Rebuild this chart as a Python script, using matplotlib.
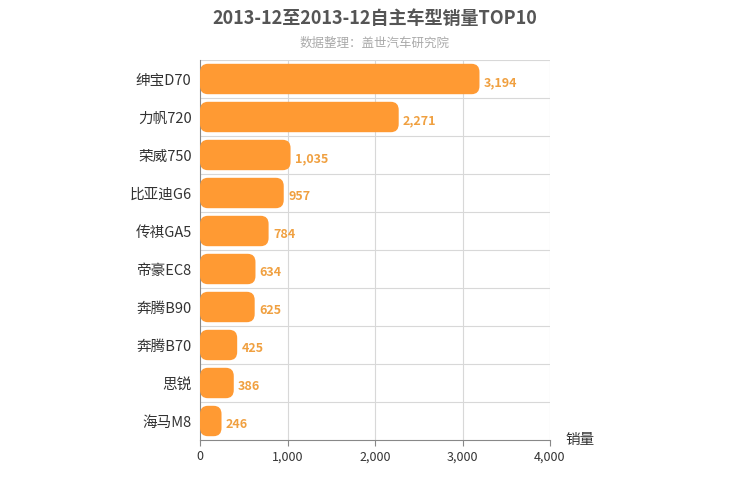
import matplotlib
matplotlib.use("Agg")
import matplotlib.pyplot as plt
from matplotlib.patches import FancyBboxPatch

plt.rcParams['font.family'] = 'Noto Sans CJK SC'

categories = ["绅宝D70", "力帆720", "荣威750", "比亚迪G6", "传祺GA5", "帝豪EC8", "奔腾B90", "奔腾B70", "思锐", "海马M8"]
values = [3194, 2271, 1035, 957, 784, 634, 625, 425, 386, 246]
xticks = [0, 1000, 2000, 3000, 4000]
xticklabels = ["0", "1,000", "2,000", "3,000", "4,000"]

fig = plt.figure(figsize=(7.5, 5), dpi=100)
ax = fig.add_axes([200/750, 60/500, 350/750, 380/500])
n = len(categories)
ax.set_xlim(0, 4000)
ax.set_ylim(n - 0.5, -0.5)
color = "#FF9A33"
for i, v in enumerate(values):
    h = 0.8
    p = FancyBboxPatch((0, i - h/2), v, h,
                       boxstyle="round,pad=0,rounding_size=90",
                       mutation_aspect=0.0024, fc=color, ec="none", zorder=3)
    ax.add_patch(p)
    ax.text(v + 50, i + 0.1, f"{v:,}", color="#F0A040", fontsize=9,
            fontweight="bold", va="center", ha="left", zorder=4)
ax.set_yticks(range(n))
ax.set_yticklabels(categories, fontsize=10.5, color="#333")
ax.set_xticks(xticks)
ax.set_xticklabels(xticklabels, fontsize=9, color="#333")
for x in xticks[1:]:
    ax.axvline(x, color="#d8d8d8", lw=0.8, zorder=1)
for k in range(n):
    ax.axhline(k - 0.5, color="#d8d8d8", lw=0.8, zorder=1)
for s in ["top", "right"]:
    ax.spines[s].set_visible(False)
ax.spines["left"].set_color("#888")
ax.spines["bottom"].set_color("#888")
ax.tick_params(axis="y", length=0, pad=6)
ax.tick_params(axis="x", length=4, color="#888")
fig.text(375/750, 1 - 18/500, "2013-12至2013-12自主车型销量TOP10", ha="center", va="center",
         fontsize=13, fontweight="bold", color="#555")
fig.text(375/750, 1 - 43/500, "数据整理：盖世汽车研究院", ha="center", va="center",
         fontsize=9, color="#aaa")
fig.text(580/750, 1 - 440/500, "销量", ha="center", va="center", fontsize=10.5, color="#333")
fig.savefig("out.png", dpi=100)
